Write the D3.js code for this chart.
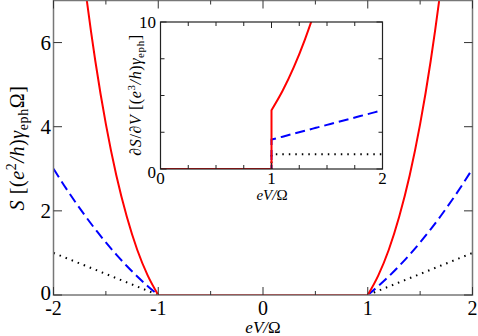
<!DOCTYPE html>
<html>
<head>
<meta charset="utf-8">
<script src="https://cdn.jsdelivr.net/npm/d3@7"></script>
<style>
  body { margin: 0; background: #fff; }
</style>
</head>
<body>
<svg id="svg1" width="478" height="336" font-family="'Liberation Serif', 'Times New Roman', serif"></svg>
<script>
// noise S(V) for three couplings, with dS/dV in the inset

// main plot, values for |eV/Omega| >= 1 (mirrored to the negative side)
var absV  = [1, 1.1, 1.2, 1.3, 1.4, 1.5, 1.6, 1.7, 1.8, 1.9, 2];
var sRed  = [0, 0.46, 1.07, 1.86, 2.84, 4.06, 5.55, 7.35, 9.50, 12.0, 15.0];
var sBlue = [0, 0.21, 0.44, 0.69, 0.96, 1.25, 1.56, 1.89, 2.24, 2.61, 3.0];
var sDot  = [0, 0.1, 0.2, 0.3, 0.4, 0.5, 0.6, 0.7, 0.8, 0.9, 1.0];

var xTicks = [-2, -1, 0, 1, 2];
var xMinor = [-1.5, -0.5, 0.5, 1.5];
var yTicks = [0, 2, 4, 6];

// inset, derivative above the threshold eV = Omega
var dV    = [1, 1.1, 1.2, 1.3, 1.4, 1.5, 1.6, 1.7, 1.8, 1.9, 2];
var dRed  = [4, 5.32, 6.91, 8.79, 10.98, 13.5, 16.4, 19.7, 23.3, 27.4, 32];
var dBlue = [2, 2.2, 2.4, 2.6, 2.8, 3.0, 3.2, 3.4, 3.6, 3.8, 4.0];
var dDot  = [1, 1, 1, 1, 1, 1, 1, 1, 1, 1, 1];

var ixTicks = [0, 1, 2];
var ixMinor = [0.25, 0.5, 0.75, 1.25, 1.5, 1.75];
var iyTicks = [0, 10];
var iyMinor = [2.5, 5, 7.5];

var svg = d3.select("#svg1");

var x = d3.scaleLinear().domain([-2, 2]).range([53.5, 472.5]);
var y = d3.scaleLinear().domain([0, 7]).range([295, 0.5]);

svg.append("clipPath").attr("id", "mainClip")
    .append("rect").attr("x", 53.5).attr("y", 0.5).attr("width", 419).attr("height", 294.5);

// curves
var line = d3.line().x(function (d) { return x(d[0]); }).y(function (d) { return y(d[1]); })
    .curve(d3.curveMonotoneX);

var series = [
    {vals: sDot,  color: "#000", dash: "1.5,5", width: 2},
    {vals: sBlue, color: "#0000ff", dash: "10,5", width: 2},
    {vals: sRed,  color: "#ff0000", dash: null, width: 2}
];

var plot = svg.append("g").attr("clip-path", "url(#mainClip)");
series.forEach(function (s) {
    var right = absV.map(function (v, i) { return [v, s.vals[i]]; });
    var left = absV.map(function (v, i) { return [-v, s.vals[i]]; }).reverse();
    var flat = [[-1, 0], [1, 0]];
    [left, flat, right].forEach(function (pts) {
        plot.append("path")
            .attr("d", line(pts))
            .attr("fill", "none")
            .attr("stroke", s.color)
            .attr("stroke-width", s.width)
            .attr("stroke-dasharray", s.dash);
    });
});

// frame and ticks
var frame = svg.append("g");
frame.append("rect").attr("x", 53.5).attr("y", 0.5).attr("width", 419).attr("height", 294.5)
    .attr("fill", "none").attr("stroke", "#777").attr("stroke-width", 1.5);

xTicks.forEach(function (t) {
    frame.append("line").attr("x1", x(t)).attr("x2", x(t)).attr("y1", 295).attr("y2", 287).attr("stroke", "#333");
    frame.append("line").attr("x1", x(t)).attr("x2", x(t)).attr("y1", 0.5).attr("y2", 8.5).attr("stroke", "#333");
    svg.append("text").attr("x", x(t)).attr("y", 315).attr("text-anchor", "middle")
        .attr("font-size", 20).text(t < 0 ? "-" + Math.abs(t) : t);
});
xMinor.forEach(function (t) {
    frame.append("line").attr("x1", x(t)).attr("x2", x(t)).attr("y1", 295).attr("y2", 291).attr("stroke", "#333");
    frame.append("line").attr("x1", x(t)).attr("x2", x(t)).attr("y1", 0.5).attr("y2", 4.5).attr("stroke", "#333");
});
yTicks.forEach(function (t) {
    frame.append("line").attr("x1", 53.5).attr("x2", 62).attr("y1", y(t)).attr("y2", y(t)).attr("stroke", "#333");
    frame.append("line").attr("x1", 472.5).attr("x2", 464).attr("y1", y(t)).attr("y2", y(t)).attr("stroke", "#333");
    svg.append("text").attr("x", 51).attr("y", y(t) + (t === 0 ? 5 : 7)).attr("text-anchor", "end")
        .attr("font-size", 21).text(t);
});

// axis titles
var xl = svg.append("text").attr("x", 263).attr("y", 333).attr("text-anchor", "middle").attr("font-size", 17);
xl.append("tspan").attr("font-style", "italic").text("eV");
xl.append("tspan").attr("font-style", "italic").text("/");
xl.append("tspan").text("Ω");

var yl = svg.append("text").attr("transform", "translate(24,148) rotate(-90)")
    .attr("text-anchor", "middle").attr("font-size", 20).attr("letter-spacing", 0.6);
yl.append("tspan").attr("font-style", "italic").text("S");
yl.append("tspan").text(" [(");
yl.append("tspan").attr("font-style", "italic").text("e");
yl.append("tspan").attr("font-size", 14).attr("dy", -8).text("2");
yl.append("tspan").attr("font-style", "italic").attr("dy", 8).text("/h");
yl.append("tspan").text(")");
yl.append("tspan").attr("font-style", "italic").text("γ");
yl.append("tspan").attr("font-size", 14).attr("dy", 4).text("eph");
yl.append("tspan").attr("dy", -4).text("Ω]");

// inset
var ix = d3.scaleLinear().domain([0, 2]).range([160.5, 382.5]);
var iy = d3.scaleLinear().domain([0, 10]).range([169, 22]);

var inset = svg.append("g");
inset.append("rect").attr("x", 160.5).attr("y", 22).attr("width", 222).attr("height", 147).attr("fill", "#fff");
inset.append("clipPath").attr("id", "insetClip")
    .append("rect").attr("x", 160.5).attr("y", 22).attr("width", 222).attr("height", 147);

var iline = d3.line().x(function (d) { return ix(d[0]); }).y(function (d) { return iy(d[1]); })
    .curve(d3.curveMonotoneX);

var iseries = [
    {vals: dDot,  color: "#000", dash: "1.5,5"},
    {vals: dBlue, color: "#0000ff", dash: "10,5"},
    {vals: dRed,  color: "#ff0000", dash: null}
];
var iplot = inset.append("g").attr("clip-path", "url(#insetClip)");
iseries.forEach(function (s) {
    var pts = dV.map(function (v, i) { return [v, s.vals[i]]; });
    var curve = iline(pts);
    var d = "M" + ix(0) + "," + iy(0) + "L" + ix(1) + "," + iy(0) + "L" + curve.slice(1);
    iplot.append("path")
        .attr("d", d)
        .attr("fill", "none")
        .attr("stroke", s.color)
        .attr("stroke-width", 2)
        .attr("stroke-dasharray", s.dash);
});

inset.append("rect").attr("x", 160.5).attr("y", 22).attr("width", 222).attr("height", 147)
    .attr("fill", "none").attr("stroke", "#222").attr("stroke-width", 1.2);

ixTicks.forEach(function (t) {
    inset.append("line").attr("x1", ix(t)).attr("x2", ix(t)).attr("y1", 169).attr("y2", 163).attr("stroke", "#222");
    inset.append("line").attr("x1", ix(t)).attr("x2", ix(t)).attr("y1", 22).attr("y2", 28).attr("stroke", "#222");
    svg.append("text").attr("x", ix(t)).attr("y", 184).attr("text-anchor", "middle")
        .attr("font-size", 17).text(t);
});
ixMinor.forEach(function (t) {
    inset.append("line").attr("x1", ix(t)).attr("x2", ix(t)).attr("y1", 169).attr("y2", 165).attr("stroke", "#222");
    inset.append("line").attr("x1", ix(t)).attr("x2", ix(t)).attr("y1", 22).attr("y2", 26).attr("stroke", "#222");
});
iyTicks.forEach(function (t) {
    inset.append("line").attr("x1", 160.5).attr("x2", 166.5).attr("y1", iy(t)).attr("y2", iy(t)).attr("stroke", "#222");
    inset.append("line").attr("x1", 382.5).attr("x2", 376.5).attr("y1", iy(t)).attr("y2", iy(t)).attr("stroke", "#222");
    svg.append("text").attr("x", 156).attr("y", t === 0 ? 178 : iy(t) + 6).attr("text-anchor", "end")
        .attr("font-size", 17).text(t);
});
iyMinor.forEach(function (t) {
    inset.append("line").attr("x1", 160.5).attr("x2", 164.5).attr("y1", iy(t)).attr("y2", iy(t)).attr("stroke", "#222");
    inset.append("line").attr("x1", 382.5).attr("x2", 378.5).attr("y1", iy(t)).attr("y2", iy(t)).attr("stroke", "#222");
});

var ixl = svg.append("text").attr("x", 272).attr("y", 200).attr("text-anchor", "middle").attr("font-size", 15);
ixl.append("tspan").attr("font-style", "italic").text("eV");
ixl.append("tspan").attr("font-style", "italic").text("/");
ixl.append("tspan").text("Ω");

var iyl = svg.append("text").attr("transform", "translate(141,95) rotate(-90)")
    .attr("text-anchor", "middle").attr("font-size", 16).attr("letter-spacing", 0.6);
iyl.append("tspan").text("∂");
iyl.append("tspan").attr("font-style", "italic").text("S");
iyl.append("tspan").text("/∂");
iyl.append("tspan").attr("font-style", "italic").text("V");
iyl.append("tspan").text(" [(");
iyl.append("tspan").attr("font-style", "italic").text("e");
iyl.append("tspan").attr("font-size", 11).attr("dy", -6).text("3");
iyl.append("tspan").attr("font-style", "italic").attr("dy", 6).text("/h");
iyl.append("tspan").text(")");
iyl.append("tspan").attr("font-style", "italic").text("γ");
iyl.append("tspan").attr("font-size", 11).attr("dy", 3).text("eph");
iyl.append("tspan").attr("dy", -3).text("]");
</script>
</body>
</html>
